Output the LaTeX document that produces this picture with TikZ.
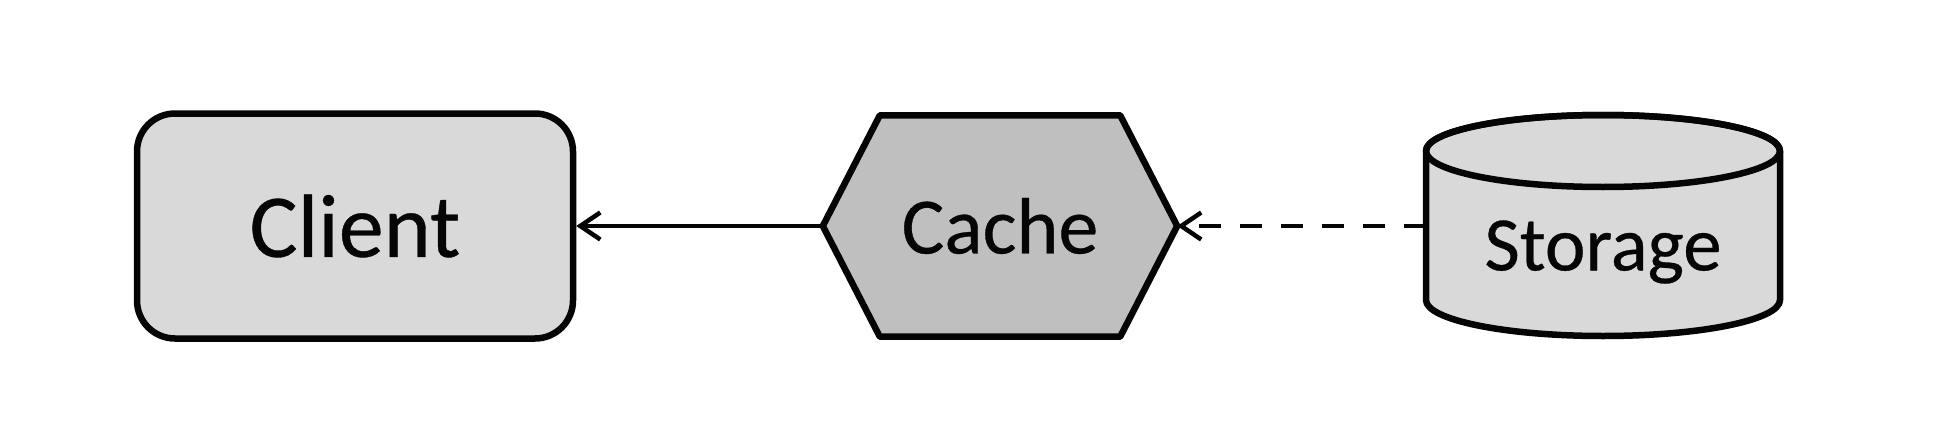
\documentclass[tikz,border=0pt]{standalone}
\usepackage{fontspec}
\setmainfont[FakeBold=0.4]{Carlito}
\usetikzlibrary{arrows.meta}
\definecolor{lightfill}{HTML}{D9D9D9}
\definecolor{darkfill}{HTML}{BFBFBF}
\definecolor{ink}{HTML}{050505}
\begin{document}
\begin{tikzpicture}[x=1pt,y=-1pt,
  shapeline/.style={draw=ink,line width=6.5pt,line join=round},
  conn/.style={draw=ink,line width=4.5pt,-{Straight Barb[length=20pt,width=27pt]}},
  dashconn/.style={conn,dash pattern=on 22pt off 19pt},
  box/.style={shape=rectangle,inner sep=0pt,text=ink}]
\useasboundingbox (0,0) rectangle (1935,444);
% Client
\node[box,shapeline,fill=lightfill,rounded corners=38pt,minimum width=436pt,minimum height=225pt,
  font=\fontsize{90}{100}\selectfont] (client) at (355,226) {Client};
% Cache
\node[box,minimum width=354pt,minimum height=221pt] (cache) at (1000,226) {};
\draw[shapeline,fill=darkfill] (cache.west) -- ([xshift=57pt]cache.north west) -- ([xshift=-57pt]cache.north east)
  -- (cache.east) -- ([xshift=-57pt]cache.south east) -- ([xshift=57pt]cache.south west) -- cycle;
\node[box,font=\fontsize{80}{90}\selectfont] (cachelabel) at (cache.center) {Cache};
% Storage
\node[box,minimum width=354pt,minimum height=221pt] (storage) at (1603,226) {};
\draw[shapeline,fill=lightfill] (1426,151) -- (1426,300) arc[start angle=180,end angle=360,x radius=177pt,y radius=36pt]
  -- (1780,151) arc[start angle=0,end angle=180,x radius=177pt,y radius=36pt] -- cycle;
\draw[shapeline] (1603,151) ellipse[x radius=177pt,y radius=36pt];
\node[box,font=\fontsize{77}{87}\selectfont] (storagelabel) at (1603,252) {Storage};
% Connectors
\draw[conn] (cache.west) -- (client.east);
\draw[dashconn] (storage.west) -- (cache.east);
\end{tikzpicture}
\end{document}
